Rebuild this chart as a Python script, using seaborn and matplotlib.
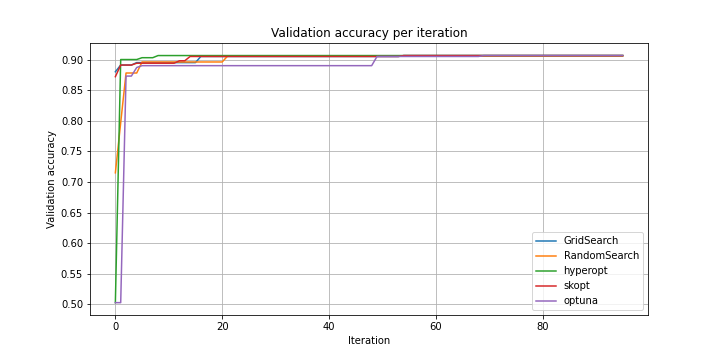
import numpy as np
import pandas as pd
import matplotlib
matplotlib.use('Agg')
import matplotlib.pyplot as plt
import seaborn as sns

n_iter = 96
methods = ['GridSearch', 'RandomSearch', 'hyperopt', 'skopt', 'optuna']

# best-so-far accuracy, given at the iterations where it changes
grid_it = [0, 1, 4, 15, 16, 54]
grid_acc = [0.880, 0.891, 0.895, 0.895, 0.905, 0.9065]

random_it = [0, 1, 2, 4, 5, 20, 21]
random_acc = [0.715, 0.797, 0.878, 0.878, 0.896, 0.896, 0.9055]

hyperopt_it = [0, 1, 4, 5, 7, 8]
hyperopt_acc = [0.503, 0.900, 0.900, 0.903, 0.903, 0.9065]

skopt_it = [0, 1, 3, 4, 11, 12, 13, 14, 53, 54]
skopt_acc = [0.872, 0.891, 0.891, 0.894, 0.894, 0.898, 0.898, 0.905, 0.905, 0.9065]

optuna_it = [0, 1, 2, 3, 4, 5, 48, 49, 68, 69]
optuna_acc = [0.503, 0.503, 0.873, 0.873, 0.887, 0.890, 0.890, 0.905, 0.905, 0.9065]

points = {
    'GridSearch': (grid_it, grid_acc),
    'RandomSearch': (random_it, random_acc),
    'hyperopt': (hyperopt_it, hyperopt_acc),
    'skopt': (skopt_it, skopt_acc),
    'optuna': (optuna_it, optuna_acc),
}

frames = []
for name in methods:
    it, acc = points[name]
    s = pd.Series(acc, index=it).reindex(range(n_iter)).ffill()
    frames.append(pd.DataFrame({'Iteration': s.index, 'accuracy': s.values, 'method': name}))
df = pd.concat(frames, ignore_index=True)

fig, ax = plt.subplots(figsize=(10, 5), dpi=72)
fig.subplots_adjust(left=0.125, right=0.9, top=0.88, bottom=0.125)
sns.lineplot(data=df, x='Iteration', y='accuracy', hue='method', hue_order=methods,
             palette=['#1f77b4', '#ff7f0e', '#2ca02c', '#d62728', '#9467bd'], ax=ax)
ax.grid(True)
ax.set_title('Validation accuracy per iteration')
ax.set_xlabel('Iteration')
ax.set_ylabel('Validation accuracy')
ax.legend(loc='lower right')
fig.savefig('out.png', dpi=72)
